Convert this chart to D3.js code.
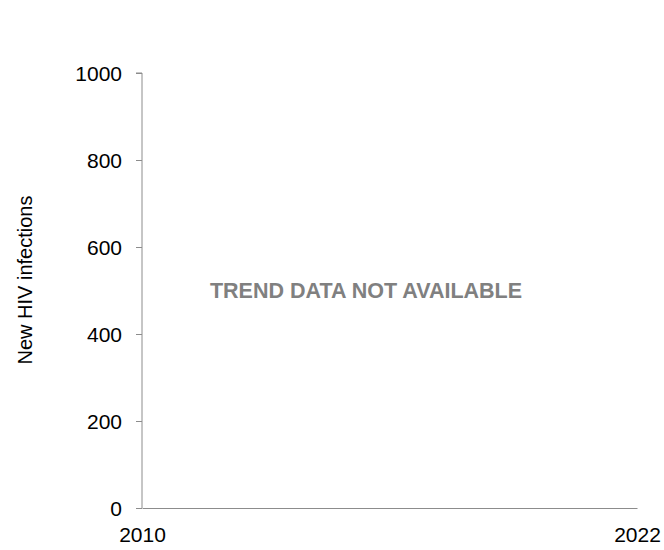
<!DOCTYPE html>
<html><head><meta charset="utf-8">
<script src="https://cdn.jsdelivr.net/npm/d3@7"></script>
<style>body{margin:0;background:#fff}svg{display:block}text{font-family:"Liberation Sans",Arial,sans-serif}</style>
</head><body>
<script>
const years = [2010, 2022];
const yTicks = [0, 200, 400, 600, 800, 1000];
const yDomain = [0, 1000];
const yLabel = "New HIV infections";
const message = "TREND DATA NOT AVAILABLE";

const W = 664, H = 550;
const m = {left: 142, right: 27, top: 73, bottom: 42};
const svg = d3.select("body").append("svg").attr("width", W).attr("height", H);
const x = d3.scaleLinear().domain(d3.extent(years)).range([m.left, W - m.right]);
const y = d3.scaleLinear().domain(yDomain).range([H - m.bottom, m.top]);

const yAxis = svg.append("g").attr("transform", `translate(${m.left},0)`)
  .call(d3.axisLeft(y).tickValues(yTicks).tickSize(6).tickPadding(14).tickFormat(d3.format("d")));
yAxis.select(".domain").attr("stroke", "#8c8c8c").attr("d", `M-6,${y(1000)}H0V${y(0)}`);
yAxis.selectAll(".tick line").attr("stroke", "#8c8c8c");
yAxis.selectAll(".tick text").attr("fill", "#000").attr("font-size", 21).attr("dy", "0.36em");

const xAxis = svg.append("g").attr("transform", `translate(0,${y(0)})`)
  .call(d3.axisBottom(x).tickValues(years).tickSize(0).tickPadding(19).tickFormat(d3.format("d")));
xAxis.select(".domain").attr("stroke", "#8c8c8c");
xAxis.selectAll(".tick text").attr("fill", "#000").attr("font-size", 21);

svg.append("text").attr("transform", `translate(25,280) rotate(-90)`)
  .attr("text-anchor", "middle").attr("dy", "0.35em").attr("font-size", 20).attr("fill", "#000").text(yLabel);

svg.append("text").attr("x", 366).attr("y", y(500)).attr("dy", "0.35em")
  .attr("text-anchor", "middle").attr("font-size", 21.5).attr("font-weight", "bold")
  .attr("fill", "#808080").text(message);
</script>
</body></html>
